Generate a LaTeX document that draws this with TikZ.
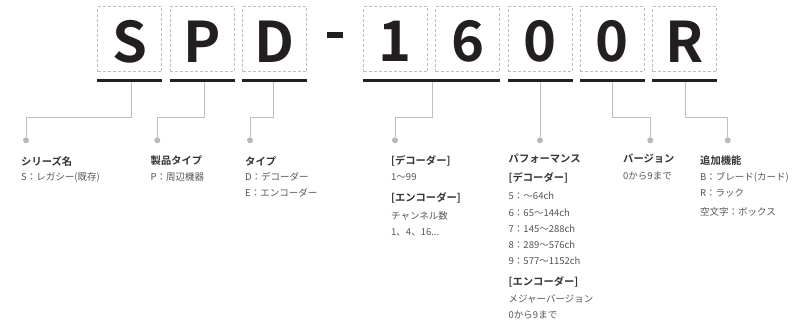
\documentclass[tikz,border=0pt]{standalone}
\usepackage{fontspec}
\setmainfont{Noto Sans CJK JP}[BoldFont={Noto Sans CJK JP Bold}]
\definecolor{ink}{HTML}{231F20}
\definecolor{headc}{HTML}{333333}
\definecolor{bodyc}{HTML}{555555}
\definecolor{boxgray}{HTML}{BDBDBD}
\definecolor{linegray}{HTML}{BEBEBE}
\definecolor{dotgray}{HTML}{B8B8BE}
\begin{document}
\begin{tikzpicture}[x=1pt,y=-1pt,
  box/.style={draw=boxgray, dash pattern=on 3pt off 2pt, line width=0.8pt, minimum width=64pt, minimum height=65pt, inner sep=0pt},
  letter/.style={font=\fontsize{56}{56}\selectfont\bfseries, text=ink, inner sep=0pt},
  bar/.style={draw=ink, line width=3pt},
  conn/.style={draw=linegray, line width=0.9pt},
  dot/.style={circle, fill=dotgray, inner sep=0pt, minimum size=6pt},
  head/.style={anchor=west, font=\fontsize{10.3}{12}\selectfont\bfseries, text=headc, inner sep=0pt},
  body/.style={anchor=west, font=\fontsize{9.5}{11}\selectfont, text=bodyc, inner sep=0pt}]
\useasboundingbox (0,0) rectangle (810,324);

% boxes
\foreach \n/\x in {b1/129.7, b2/202.3, b3/274.5, b4/395.5, b5/467.8, b6/540.2, b7/612.3, b8/684.5}
  \node[box] (\n) at (\x,39.2) {};
\foreach \n/\x/\t in {l1/129.7/S, l2/202.3/P, l3/274.5/D, l4/395.5/1, l5/467.8/6, l6/540.2/0, l7/612.3/0, l8/684.5/R}
  \node[letter] (\n) at (\x,41.5) {\t};
\node[fill=ink, minimum width=16.6pt, minimum height=6.6pt, inner sep=0pt] (dash) at (335,35) {};

% bars
\draw[bar] ([yshift=-8.3pt]b1.south west) -- ([yshift=-8.3pt]b1.south east);
\draw[bar] ([yshift=-8.3pt]b2.south west) -- ([yshift=-8.3pt]b2.south east);
\draw[bar] ([yshift=-8.3pt]b3.south west) -- ([yshift=-8.3pt]b3.south east);
\draw[bar] ([yshift=-8.3pt]b4.south west) -- ([yshift=-8.3pt]b5.south east);
\draw[bar] ([yshift=-8.3pt]b6.south west) -- ([yshift=-8.3pt]b6.south east);
\draw[bar] ([yshift=-8.3pt]b7.south west) -- ([yshift=-8.3pt]b7.south east);
\draw[bar] ([yshift=-8.3pt]b8.south west) -- ([yshift=-8.3pt]b8.south east);

% connector start points and dots
\foreach \n/\x in {s1/131.7, s2/204, s3/273.3, s4/432.3, s5/540, s6/612.3, s7/685}
  \coordinate (\n) at (\x,81.5);
\foreach \n/\x in {d1/26, d2/157.3, d3/250, d4/395, d5/540, d6/650.3, d7/727.7}
  \node[dot] (\n) at (\x,140.3) {};

\draw[conn] (s1) -- ++(0,36.2) -| (d1);
\draw[conn] (s2) -- ++(0,36.2) -| (d2);
\draw[conn] (s3) -- ++(0,36.2) -| (d3);
\draw[conn] (s4) -- ++(0,36.2) -| (d4);
\draw[conn] (s5) -- (d5);
\draw[conn] (s6) -- ++(0,36.2) -| (d6);
\draw[conn] (s7) -- ++(0,36.2) -| (d7);

% column 1
\node[head] (t1) at (21,161) {シリーズ名};
\node[body] (t1a) at (21,177) {S：レガシー(既存)};
% column 2
\node[head] (t2) at (150.5,161) {製品タイプ};
\node[body] (t2a) at (150.5,177) {P：周辺機器};
% column 3
\node[head] (t3) at (245,161) {タイプ};
\node[body] (t3a) at (245,177) {D：デコーダー};
\node[body] (t3b) at (245,193.3) {E：エンコーダー};
% column 4
\node[head] (t4) at (391,160.5) {[デコーダー]};
\node[body] (t4a) at (391,177) {1〜99};
\node[head] (t4b) at (391,197.8) {[エンコーダー]};
\node[body] (t4c) at (391,215.5) {チャンネル数};
\node[body] (t4d) at (391,232) {1、4、16...};
% column 5
\node[head] (t5) at (508.5,159) {パフォーマンス};
\node[head] (t5a) at (508.5,178.3) {[デコーダー]};
\node[body] (t5b) at (508.5,196) {5：〜64ch};
\node[body] (t5c) at (508.5,212.5) {6：65〜144ch};
\node[body] (t5d) at (508.5,228.8) {7：145〜288ch};
\node[body] (t5e) at (508.5,245) {8：289〜576ch};
\node[body] (t5f) at (508.5,261.2) {9：577〜1152ch};
\node[head] (t5g) at (508.5,281.7) {[エンコーダー]};
\node[body] (t5h) at (508.5,299) {メジャーバージョン};
\node[body] (t5i) at (508.5,315.5) {0から9まで};
% column 6
\node[head] (t6) at (623,159) {バージョン};
\node[body] (t6a) at (623,176.5) {0から9まで};
% column 7
\node[head] (t7) at (700,161) {追加機能};
\node[body] (t7a) at (700,177) {B：ブレード(カード)};
\node[body] (t7b) at (700,193.3) {R：ラック};
\node[body] (t7c) at (700,211.5) {空文字：ボックス};
\end{tikzpicture}
\end{document}
